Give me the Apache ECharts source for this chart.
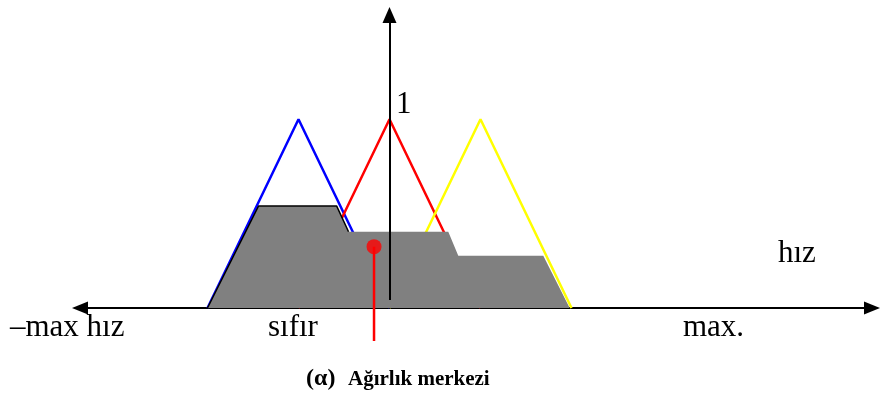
<!DOCTYPE html>
<html>
<head>
<meta charset="utf-8">
<script src="https://cdn.jsdelivr.net/npm/echarts@6/dist/echarts.min.js"></script>
<style>
  html, body { margin: 0; padding: 0; background: #ffffff; }
  #chart { width: 880px; height: 394px; }
</style>
</head>
<body>
<div id="chart"></div>
<script>
// Membership functions (speed axis, unit spacing between sets)
const negativeSet = [[-2, 0], [-1, 1], [0, 0]];   // blue
const zeroSet     = [[-1, 0], [0, 1], [1, 0]];    // red
const positiveSet = [[0, 0], [1, 1], [2, 0]];     // yellow

// Aggregated (clipped) output region
const aggX = [-2.0, -1.44, -0.58, -0.45, 0.646, 0.756, 1.69, 1.98];
const aggY = [0, 0.54, 0.54, 0.404, 0.404, 0.277, 0.277, 0];
const outlineCount = 4; // outlined part of the region edge

// Centre of gravity
const centroid = [-0.17, 0.325];
const centroidFoot = -0.175;

// Vertical (membership) axis extent
const vAxisFrom = 0.042;
const vAxisTo = 1.553;

// Texts
const axisTexts = ['\u2013max hız', 'sıfır', 'max.'];
const axisName = 'hız';
const peakText = '1';
const captionSymbol = '(α)';
const captionText = 'Ağırlık merkezi';

const aggData = aggX.map((x, i) => [x, aggY[i]]);

const serif = "'Liberation Serif', 'Times New Roman', serif";

const chart = echarts.init(document.getElementById('chart'), null, { renderer: 'canvas' });

chart.setOption({
  animation: false,
  backgroundColor: '#ffffff',
  grid: { left: 80, right: 8, top: 6.08, bottom: 10.52, containLabel: false },
  xAxis: {
    type: 'value',
    min: (80 - 389.5) / 91,
    max: (872 - 389.5) / 91,
    axisLine: {
      show: true,
      onZero: true,
      symbol: ['triangle', 'triangle'],
      symbolSize: [13, 16],
      lineStyle: { color: '#000000', width: 2 }
    },
    axisTick: { show: false },
    axisLabel: { show: false },
    splitLine: { show: false }
  },
  yAxis: {
    type: 'value',
    min: -0.4,
    max: 1.6,
    axisLine: { show: false },
    axisTick: { show: false },
    axisLabel: { show: false },
    splitLine: { show: false }
  },
  series: [
    {
      type: 'line', data: negativeSet, symbol: 'none', z: 2, silent: true,
      lineStyle: { color: '#0000ff', width: 2.5 }
    },
    {
      type: 'line', data: zeroSet, symbol: 'none', z: 2, silent: true,
      lineStyle: { color: '#ff0000', width: 2.5 }
    },
    {
      type: 'line', data: positiveSet, symbol: 'none', z: 2, silent: true,
      lineStyle: { color: '#ffff00', width: 2.5 }
    },
    {
      type: 'line', data: aggData, symbol: 'none', z: 3, silent: true,
      lineStyle: { width: 0 },
      areaStyle: { color: '#808080', opacity: 1 }
    },
    {
      type: 'line', data: aggData.slice(0, outlineCount), symbol: 'none', z: 4, silent: true,
      lineStyle: { color: '#000000', width: 1.5 }
    },
    {
      type: 'line',
      data: [[centroid[0], centroidFoot], centroid],
      symbol: 'none', z: 5, silent: true,
      lineStyle: { color: '#ff0000', width: 2.5 },
      markLine: {
        silent: true,
        symbol: ['none', 'triangle'],
        symbolSize: [14, 16],
        label: { show: false },
        lineStyle: { color: '#000000', width: 2, type: 'solid' },
        emphasis: { disabled: true },
        data: [[{ coord: [0, vAxisFrom] }, { coord: [0, vAxisTo] }]]
      }
    },
    {
      type: 'scatter', data: [centroid], symbol: 'circle', symbolSize: 15, z: 6, silent: true,
      itemStyle: { color: '#ff0000' }
    }
  ],
  graphic: [
    { type: 'text', left: 10, top: 312, silent: true,
      style: { text: axisTexts[0], font: '31px ' + serif, fill: '#000000' } },
    { type: 'text', left: 268, top: 312, silent: true,
      style: { text: axisTexts[1], font: '31px ' + serif, fill: '#000000' } },
    { type: 'text', left: 683, top: 312, silent: true,
      style: { text: axisTexts[2], font: '31px ' + serif, fill: '#000000' } },
    { type: 'text', left: 778, top: 238, silent: true,
      style: { text: axisName, font: '31px ' + serif, fill: '#000000' } },
    { type: 'text', left: 396, top: 89, silent: true,
      style: { text: peakText, font: '31px ' + serif, fill: '#000000' } },
    { type: 'text', left: 306, top: 367, silent: true,
      style: { text: captionSymbol, font: 'bold 24px ' + serif, fill: '#000000' } },
    { type: 'text', left: 348, top: 369, silent: true,
      style: { text: captionText, font: 'bold 21px ' + serif, fill: '#000000' } }
  ]
});
</script>
</body>
</html>
